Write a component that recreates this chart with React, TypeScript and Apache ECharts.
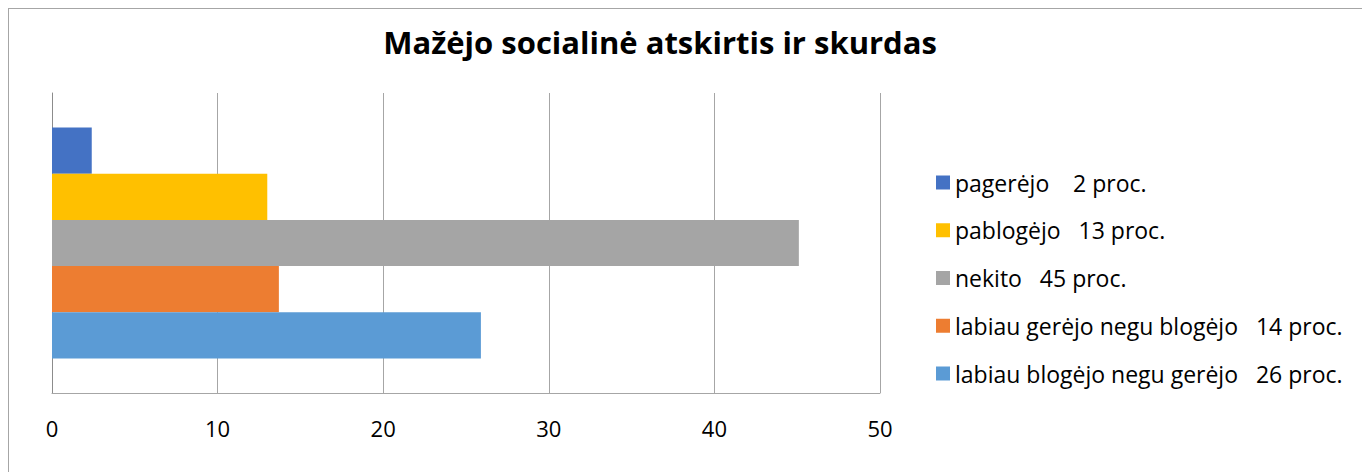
import React, { useEffect, useRef } from "react";
import * as echarts from "echarts";

const titleText = "Mažėjo socialinė atskirtis ir skurdas";
const categories = [""];
// top-to-bottom order of bars
const seriesNames = [
  "pagerėjo    2 proc.",
  "pablogėjo   13 proc.",
  "nekito   45 proc.",
  "labiau gerėjo negu blogėjo   14 proc.",
  "labiau blogėjo negu gerėjo   26 proc.",
];
const seriesValues = [2.4, 13.0, 45.1, 13.7, 25.9];
const seriesColors = ["#4472C4", "#FFC000", "#A5A5A5", "#ED7D31", "#5B9BD5"];

const FONT = "'Open Sans', sans-serif";

export default function App() {
  const ref = useRef<HTMLDivElement>(null);
  useEffect(() => {
    if (!ref.current) return;
    const chart = echarts.init(ref.current, undefined, { renderer: "svg" });
    chart.setOption({
      animation: false,
      backgroundColor: "#ffffff",
      textStyle: { fontFamily: FONT },
      graphic: [
        {
          type: "text",
          x: 651,
          y: 33,
          style: {
            text: titleText,
            align: "center",
            verticalAlign: "middle",
            fontFamily: FONT,
            fontWeight: "bold",
            fontSize: 31,
            fill: "#000000",
          },
        },
      ],
      legend: {
        orient: "vertical",
        left: 922,
        top: 157,
        itemWidth: 14,
        itemHeight: 14,
        itemGap: 24.75,
        icon: "rect",
        data: seriesNames,
        textStyle: { fontFamily: FONT, fontSize: 23, color: "#000000", lineHeight: 23 },
      },
      grid: { left: 43, top: 84, width: 828, height: 300, containLabel: false },
      xAxis: {
        type: "value",
        min: 0,
        max: 50,
        interval: 10,
        axisLine: { show: true, lineStyle: { color: "#a6a6a6", width: 1 } },
        axisTick: { show: false },
        axisLabel: { fontFamily: FONT, fontSize: 22, color: "#000000", margin: 24 },
        splitLine: { show: true, lineStyle: { color: "#a6a6a6", width: 1 } },
      },
      yAxis: {
        type: "category",
        data: categories,
        axisLine: { show: true, lineStyle: { color: "#8c8c8c", width: 1 } },
        axisTick: { show: false },
        axisLabel: { show: false },
      },
      series: seriesNames.map((name, i) => ({
        name,
        type: "bar",
        data: [seriesValues[i]],
        itemStyle: { color: seriesColors[i] },
        barGap: "0%",
        barCategoryGap: "23%",
      })),
    });
    return () => chart.dispose();
  }, []);
  return (
    <div
      style={{
        width: 1362,
        height: 464,
        boxSizing: "border-box",
        borderTop: "1px solid #a6a6a6",
        borderLeft: "1px solid #a6a6a6",
      }}
    >
      <div ref={ref} style={{ width: 1361, height: 463 }} />
    </div>
  );
}
